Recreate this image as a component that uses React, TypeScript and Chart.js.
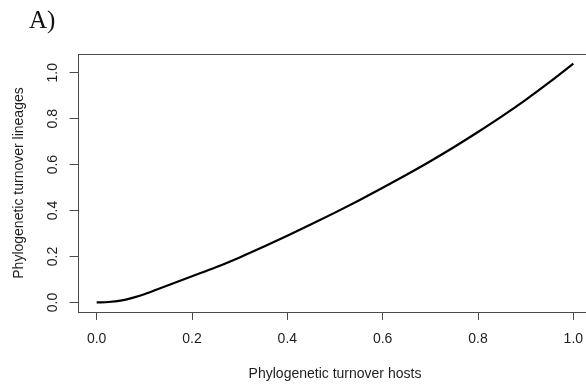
import React, { useEffect, useRef } from "react";
import { Chart, registerables } from "chart.js";

Chart.register(...registerables);

const hostTurnover = [0, 0.025, 0.05, 0.075, 0.1, 0.125, 0.15, 0.2, 0.25, 0.3, 0.35, 0.4, 0.45, 0.5, 0.55, 0.6, 0.65, 0.7, 0.75, 0.8, 0.85, 0.9, 0.95, 1.0];
const lineageTurnover = [0, 0.002, 0.008, 0.020, 0.036, 0.055, 0.075, 0.114, 0.153, 0.196, 0.242, 0.290, 0.340, 0.391, 0.444, 0.499, 0.556, 0.615, 0.677, 0.742, 0.810, 0.882, 0.959, 1.040];
const xTicks = [0, 0.2, 0.4, 0.6, 0.8, 1.0];
const yTicks = [0, 0.2, 0.4, 0.6, 0.8, 1.0];
const panelLabel = "A)";
const xTitle = "Phylogenetic turnover hosts";
const yTitle = "Phylogenetic turnover lineages";

const AXIS_COLOR = "#4a4a4a";
const TEXT_COLOR = "#1e1e1e";
const FONT = "'Liberation Sans', Arial, Helvetica, sans-serif";

export default function App() {
  const canvasRef = useRef<HTMLCanvasElement | null>(null);

  useEffect(() => {
    const canvas = canvasRef.current;
    if (!canvas) return;

    const boxPlugin = {
      id: "rbox",
      afterDraw(chart: any) {
        const { ctx, chartArea } = chart;
        ctx.save();
        ctx.strokeStyle = AXIS_COLOR;
        ctx.lineWidth = 1;
        ctx.strokeRect(
          Math.round(chartArea.left) + 0.5,
          Math.round(chartArea.top) + 0.5,
          Math.round(chartArea.right - chartArea.left),
          Math.round(chartArea.bottom - chartArea.top)
        );
        ctx.fillStyle = "#111";
        ctx.font = "25px 'Liberation Serif', 'Times New Roman', serif";
        ctx.textAlign = "left";
        ctx.textBaseline = "alphabetic";
        ctx.fillText(panelLabel, 29, 28);
        ctx.restore();
      },
    };

    const chart = new Chart(canvas, {
      type: "line",
      data: {
        datasets: [
          {
            data: hostTurnover.map((x, i) => ({ x, y: lineageTurnover[i] })),
            borderColor: "#000",
            borderWidth: 2.2,
            pointRadius: 0,
            cubicInterpolationMode: "monotone",
            fill: false,
          },
        ],
      },
      options: {
        animation: false,
        responsive: true,
        maintainAspectRatio: false,
        devicePixelRatio: 1,
        layout: { padding: { top: 54, right: 7.6, bottom: 0, left: 0 } },
        plugins: { legend: { display: false }, tooltip: { enabled: false }, title: { display: false } },
        scales: {
          x: {
            type: "linear",
            min: -0.04,
            max: 1.04,
            afterBuildTicks: (scale: any) => {
              scale.ticks = xTicks.map((v) => ({ value: v }));
            },
            afterFit: (scale: any) => {
              scale.height = 72;
            },
            border: { display: false },
            grid: { display: true, drawOnChartArea: false, drawTicks: true, tickLength: 8, color: AXIS_COLOR, tickColor: AXIS_COLOR },
            ticks: {
              color: TEXT_COLOR,
              font: { family: FONT, size: 14 },
              padding: 11,
              maxRotation: 0,
              autoSkip: false,
              callback: (v: any) => Number(v).toFixed(1),
            },
            title: { display: true, text: xTitle, color: TEXT_COLOR, font: { family: FONT, size: 14 }, padding: { top: 0, bottom: 1.5 } },
          },
          y: {
            type: "linear",
            min: -0.0416,
            max: 1.0816,
            afterBuildTicks: (scale: any) => {
              scale.ticks = yTicks.map((v) => ({ value: v }));
            },
            afterFit: (scale: any) => {
              scale.width = 77.6;
            },
            border: { display: false },
            grid: { display: true, drawOnChartArea: false, drawTicks: true, tickLength: 8, color: AXIS_COLOR, tickColor: AXIS_COLOR },
            ticks: {
              color: TEXT_COLOR,
              font: { family: FONT, size: 14 },
              padding: 6.5,
              minRotation: 90,
              maxRotation: 90,
              crossAlign: "center",
              autoSkip: false,
              callback: (v: any) => Number(v).toFixed(1),
            },
            title: { display: true, text: yTitle, color: TEXT_COLOR, font: { family: FONT, size: 14 }, padding: { top: 11, bottom: 0 } },
          },
        },
      },
      plugins: [boxPlugin],
    } as any);

    return () => chart.destroy();
  }, []);

  return (
    <div style={{ position: "fixed", left: 0, top: 0, width: 586, height: 384, overflow: "hidden", background: "#fff" }}>
      <div style={{ position: "relative", width: 600, height: 384 }}>
        <canvas ref={canvasRef} />
      </div>
    </div>
  );
}
